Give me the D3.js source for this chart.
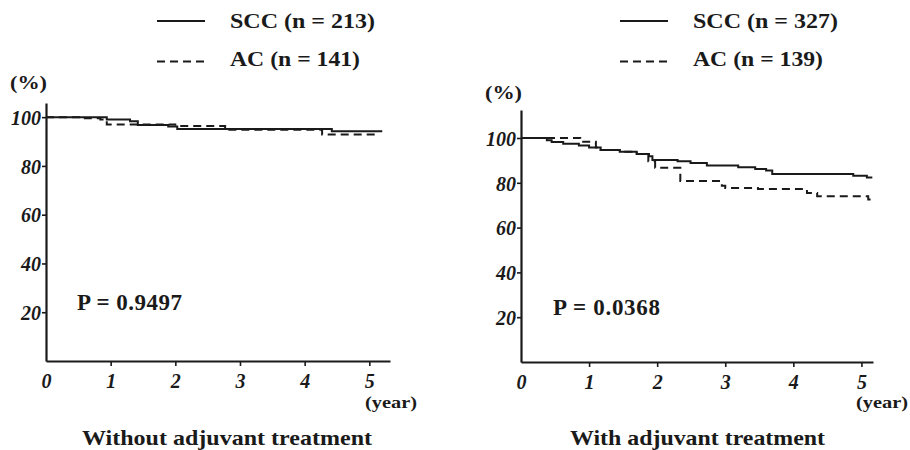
<!DOCTYPE html>
<html><head><meta charset="utf-8">
<script src="https://cdn.jsdelivr.net/npm/d3@7"></script>
<style>body{margin:0;background:#fff}svg{display:block}text{font-family:"Liberation Serif","Times New Roman",Times,Tinos,"Nimbus Roman",FreeSerif,"Noto Serif","DejaVu Serif",serif;fill:#1a1a1a}</style>
</head><body><svg id="c" width="910" height="450"></svg>
<script>
// ---- data ----
const xTicks = [0, 1, 2, 3, 4, 5];
const yTicks = [20, 40, 60, 80, 100];
const panelTitles = ["Without adjuvant treatment", "With adjuvant treatment"];
const pValues = ["P = 0.9497", "P = 0.0368"];
const legendLeft = ["SCC (n = 213)", "AC (n = 141)"];
const legendRight = ["SCC (n = 327)", "AC (n = 139)"];

// Without adjuvant treatment
const leftSccTime = [0, 0.94, 1.3, 1.42, 1.89, 2.03, 4.42, 5.2];
const leftSccSurv = [100, 99.0, 98.3, 96.8, 96.2, 95.1, 94.2, 94.2];
const leftAcTime = [0, 0.6, 0.84, 0.94, 2.0, 2.77, 4.27, 5.14];
const leftAcSurv = [100, 99.5, 99.0, 97.0, 96.4, 94.8, 92.9, 92.9];

// With adjuvant treatment
const rightSccTime = [0, 0.38, 0.45, 0.62, 0.85, 1.0, 1.17, 1.45, 1.7, 1.88, 1.93, 2.3, 2.49, 2.73, 3.19, 3.44, 3.6, 3.69, 4.88, 5.08, 5.16];
const rightSccSurv = [100, 99.0, 98.2, 97.4, 96.6, 95.8, 94.6, 93.9, 92.9, 91.8, 90.2, 89.6, 88.8, 87.7, 86.9, 86.2, 85.5, 83.9, 83.2, 82.4, 82.4];
const rightAcTime = [0, 0.87, 1.1, 1.17, 1.45, 1.7, 1.87, 1.97, 2.34, 2.95, 3.0, 3.48, 4.2, 4.35, 5.1, 5.15];
const rightAcSurv = [100, 98.3, 95.8, 94.6, 93.9, 92.9, 89.6, 86.7, 80.8, 78.7, 77.7, 77.2, 75.4, 74.0, 72.6, 72.6];

const svg = d3.select("#c");
const ink = "#1a1a1a";

const panels = [
  {x0:46, x1:390, xMax:5.32, y0:361, y1:103, yMax:105.8, title:panelTitles[0], titleX:82, titleW:290, p:pValues[0], pX:77, pY:310, pW:105,
   pctX:10, pctY:89, yearX:365, yearY:408,
   legX:157, legTextX:230, legend:legendLeft,
   series:[{t:leftSccTime, s:leftSccSurv, dash:null},{t:leftAcTime, s:leftAcSurv, dash:"8,5"}]},
  {x0:521, x1:873, xMax:5.17, y0:362, y1:110, yMax:112.5, title:panelTitles[1], titleX:570, titleW:255, p:pValues[1], pX:553, pY:315, pW:107,
   pctX:485, pctY:99, yearX:856, yearY:408,
   legX:620, legTextX:693, legend:legendRight,
   series:[{t:rightSccTime, s:rightSccSurv, dash:null},{t:rightAcTime, s:rightAcSurv, dash:"8,5"}]}
];
const legendW = [145, 130];

panels.forEach(P => {
  const x = d3.scaleLinear().domain([0, P.xMax]).range([P.x0, P.x1]);
  const y = d3.scaleLinear().domain([0, P.yMax]).range([P.y0, P.y1]);
  const g = svg.append("g");

  const line = d3.line().curve(d3.curveStepAfter).x(d => x(d[0])).y(d => y(d[1]));
  P.series.forEach(S => {
    const pts = S.t.map((t, i) => [t, S.s[i]]);
    g.append("path").attr("d", line(pts)).attr("fill", "none").attr("stroke", ink)
      .attr("stroke-width", 2).attr("stroke-dasharray", S.dash);
  });

  const ya = g.append("g").attr("transform", `translate(${P.x0},0)`)
    .call(d3.axisLeft(y).tickValues(yTicks).tickFormat(d3.format("d")).tickSize(4).tickSizeOuter(0).tickPadding(1));
  const xa = g.append("g").attr("transform", `translate(0,${P.y0})`)
    .call(d3.axisBottom(x).tickValues(xTicks).tickFormat(d3.format("d")).tickSize(5).tickSizeOuter(0));
  [ya, xa].forEach(a => {
    a.attr("font-family", null).attr("font-size", null);
    a.select(".domain").attr("stroke", ink).attr("stroke-width", 2.2);
    a.selectAll(".tick line").attr("stroke", ink).attr("stroke-width", 1.6);
    a.selectAll(".tick text").style("font-size", "20px")
      .style("font-weight", "bold").style("font-style", "italic").attr("fill", ink);
  });
  xa.selectAll(".tick").filter(d => d === 0).select("line").remove();
  xa.selectAll(".tick text").attr("y", 27).attr("dy", 0);
  ya.selectAll(".tick text").attr("dy", "0.36em");

  g.append("text").attr("x", P.pctX).attr("y", P.pctY).style("font-size", "19px").style("font-weight", "bold")
    .attr("textLength", 37).attr("lengthAdjust", "spacingAndGlyphs").text("(%)");
  g.append("text").attr("x", P.yearX).attr("y", P.yearY).style("font-size", "17px").style("font-weight", "bold")
    .attr("textLength", 52).attr("lengthAdjust", "spacingAndGlyphs").text("(year)");
  g.append("text").attr("x", P.pX).attr("y", P.pY).style("font-size", "23px").style("font-weight", "bold")
    .attr("textLength", P.pW).text(P.p);
  g.append("text").attr("x", P.titleX).attr("y", 445).style("font-size", "22px").style("font-weight", "bold")
    .attr("textLength", P.titleW).attr("lengthAdjust", "spacingAndGlyphs").text(P.title);

  [[21, null, 28], [61.5, "8,5", 66]].forEach((L, i) => {
    g.append("line").attr("x1", P.legX).attr("x2", P.legX + 48).attr("y1", L[0]).attr("y2", L[0])
      .attr("stroke", ink).attr("stroke-width", 2).attr("stroke-dasharray", L[1]);
    g.append("text").attr("x", P.legTextX).attr("y", L[2]).style("font-size", "22px").style("font-weight", "bold")
      .attr("textLength", legendW[i]).attr("lengthAdjust", "spacingAndGlyphs").text(P.legend[i]);
  });
});
</script></body></html>
